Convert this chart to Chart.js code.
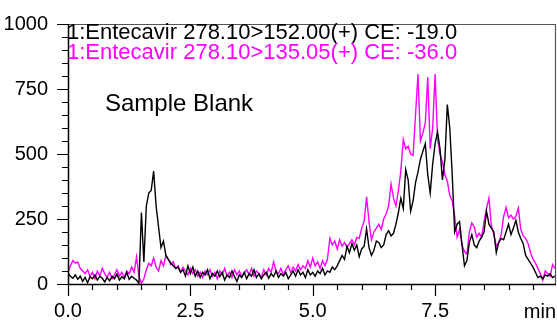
<!DOCTYPE html>
<html><head><meta charset="utf-8">
<script src="https://cdn.jsdelivr.net/npm/chart.js@4.4.1/dist/chart.umd.min.js"></script>
<style>html,body{margin:0;padding:0;background:#fff;}#wrap{width:557px;height:320px;}</style>
</head><body><div id="wrap"><canvas id="c" width="557" height="320"></canvas></div>
<script>
const times = [0.00,0.05,0.10,0.15,0.20,0.25,0.30,0.35,0.40,0.45,0.50,0.55,0.60,0.65,0.70,0.75,0.80,0.85,0.90,0.95,
1.00,1.05,1.10,1.15,1.20,1.25,1.30,1.35,1.40,1.45,1.50,1.55,1.60,1.65,1.70,1.75,1.80,1.85,1.90,1.95,
2.00,2.05,2.10,2.15,2.20,2.25,2.30,2.35,2.40,2.45,2.50,2.55,2.60,2.65,2.70,2.75,2.80,2.85,2.90,2.95,
3.00,3.05,3.10,3.15,3.20,3.25,3.30,3.35,3.40,3.45,3.50,3.55,3.60,3.65,3.70,3.75,3.80,3.85,3.90,3.95,
4.00,4.05,4.10,4.15,4.20,4.25,4.30,4.35,4.40,4.45,4.50,4.55,4.60,4.65,4.70,4.75,4.80,4.85,4.90,4.95,
5.00,5.05,5.10,5.15,5.20,5.25,5.30,5.35,5.40,5.45,5.50,5.55,5.60,5.65,5.70,5.75,5.80,5.85,5.90,5.95,
6.00,6.05,6.10,6.15,6.20,6.25,6.30,6.35,6.40,6.45,6.50,6.55,6.60,6.65,6.70,6.75,6.80,6.85,6.90,6.95,
7.00,7.05,7.10,7.15,7.20,7.25,7.30,7.35,7.40,7.45,7.50,7.55,7.60,7.65,7.70,7.75,7.80,7.85,7.90,7.95,
8.00,8.05,8.10,8.15,8.20,8.25,8.30,8.35,8.40,8.45,8.50,8.55,8.60,8.65,8.70,8.75,8.80,8.85,8.90,8.95,
9.00,9.05,9.10,9.15,9.20,9.25,9.30,9.35,9.40,9.45,9.50,9.55,9.60,9.65,9.70,9.75,9.80,9.85,9.90,9.95];

const black152 = [42,30,22,35,18,30,10,25,5,28,20,35,15,30,22,8,25,12,30,20,
38,15,28,20,45,18,30,22,15,2,275,85,300,350,360,434,300,220,140,165,
110,95,80,70,60,65,45,55,30,70,40,65,30,50,25,45,35,55,20,40,
30,50,28,45,15,35,25,50,30,10,35,25,45,20,40,30,55,25,40,20,
35,45,22,40,28,50,25,40,30,45,20,35,50,30,55,35,45,25,55,35,
45,30,50,40,60,35,50,45,65,55,70,90,110,95,145,120,155,130,150,105,
135,145,212,140,110,130,165,160,140,150,190,205,185,195,230,275,330,290,440,400,
280,320,390,430,480,510,540,420,350,460,540,585,520,400,480,690,600,420,200,230,
240,150,70,90,160,190,150,140,165,180,200,280,230,215,200,120,160,175,170,200,
230,190,215,245,200,175,155,110,95,80,65,45,25,30,20,35,30,40,25,30];

const magenta135 = [45,70,90,80,85,60,50,40,55,30,45,20,50,30,60,40,25,45,20,35,
55,30,45,25,50,40,65,45,104,30,2,20,55,80,70,100,65,50,90,70,
110,95,75,85,60,70,45,65,50,35,60,40,55,30,45,25,50,35,55,30,
45,20,50,35,60,30,45,25,55,35,50,30,40,55,35,60,30,50,40,25,
55,35,60,45,85,50,40,60,35,55,70,45,65,50,75,55,70,60,90,65,
100,70,85,60,90,70,95,175,150,165,135,170,145,160,140,155,170,150,180,175,
215,240,335,240,170,200,215,230,210,250,270,300,385,330,300,360,435,555,520,530,
500,495,650,808,550,580,620,795,520,600,808,560,500,470,420,395,340,320,260,180,
210,150,125,115,200,235,220,180,195,180,240,290,330,225,190,145,160,190,260,295,
255,265,250,260,292,210,185,175,155,120,95,80,60,40,15,50,40,30,75,60];

const yTickValues = [0,250,500,750,1000];
const xTickValues = [0.0,2.5,5.0,7.5];
const legendLines = ["1:Entecavir 278.10>152.00(+) CE: -19.0","1:Entecavir 278.10>135.05(+) CE: -36.0"];
const sampleLabel = "Sample Blank";
const xUnit = "min";

const FONT = "'Liberation Sans', Arial, sans-serif";

const decor = {
  id:'decor',
  afterDraw(chart){
    const ctx = chart.ctx, a = chart.chartArea, xs = chart.scales.x, ys = chart.scales.y;
    ctx.save();
    ctx.strokeStyle = '#555'; ctx.lineWidth = 1.2;
    ctx.beginPath();
    ctx.moveTo(a.left, a.top+0.5); ctx.lineTo(a.right-0.5, a.top+0.5); ctx.lineTo(a.right-0.5, a.bottom);
    ctx.stroke();
    ctx.strokeStyle = '#000'; ctx.lineWidth = 1.5;
    ctx.beginPath();
    ctx.moveTo(a.left+0.5, a.top); ctx.lineTo(a.left+0.5, a.bottom+0.5); ctx.lineTo(a.right, a.bottom+0.5);
    ctx.stroke();
    ctx.lineWidth = 1.2;
    ctx.beginPath();
    for (let v = 0; v <= 1000; v += 50) {
      const y = Math.round(ys.getPixelForValue(v)) + 0.5;
      const len = (v % 250 === 0) ? 11 : 6;
      ctx.moveTo(a.left - len, y); ctx.lineTo(a.left, y);
    }
    for (let v = 0; v <= 9.51; v += 0.5) {
      const x = Math.round(xs.getPixelForValue(v)) + 0.5;
      const len = (Math.abs(v/2.5 - Math.round(v/2.5)) < 1e-6) ? 12 : 6;
      ctx.moveTo(x, a.bottom); ctx.lineTo(x, a.bottom + len);
    }
    ctx.stroke();
    ctx.textBaseline = 'alphabetic'; ctx.textAlign = 'left';
    ctx.font = '22px ' + FONT;
    ctx.fillStyle = '#000'; ctx.fillText(legendLines[0], 67, 39);
    ctx.fillStyle = '#ff00ff'; ctx.fillText(legendLines[1], 67, 59);
    ctx.font = '24px ' + FONT;
    ctx.fillStyle = '#000'; ctx.fillText(sampleLabel, 105, 111);
    ctx.font = '20px ' + FONT; ctx.textAlign = 'right';
    ctx.fillText(xUnit, 556, 318);
    ctx.restore();
  }
};

new Chart(document.getElementById('c'), {
  type: 'line',
  data: {
    datasets: [
      { label: legendLines[0], data: times.map((t,i)=>({x:t, y:black152[i]})), borderColor:'#000', borderWidth:1.4, pointRadius:0, tension:0, fill:false },
      { label: legendLines[1], data: times.map((t,i)=>({x:t, y:magenta135[i]})), borderColor:'#ff00ff', borderWidth:1.4, pointRadius:0, tension:0, fill:false }
    ]
  },
  options: {
    responsive:false, animation:false, devicePixelRatio:1,
    layout:{ padding:{ top:21, right:1, left:0, bottom:0 } },
    plugins:{ legend:{display:false}, tooltip:{enabled:false} },
    scales:{
      x:{ type:'linear', min:0, max:9.97,
        grid:{display:false}, border:{display:false},
        afterFit(s){ s.height = 36; },
        afterBuildTicks(s){ s.ticks = xTickValues.map(v=>({value:v})); },
        ticks:{ padding:7, color:'#000', font:{family:FONT, size:20}, maxRotation:0, autoSkip:false,
          callback:(v)=>Number(v).toFixed(1) } },
      y:{ min:0, max:1000,
        grid:{display:false}, border:{display:false},
        afterFit(s){ s.width = 68; },
        afterBuildTicks(s){ s.ticks = yTickValues.map(v=>({value:v})); },
        ticks:{ padding:12, color:'#000', font:{family:FONT, size:20}, autoSkip:false,
          callback:(v)=>String(v) } }
    }
  },
  plugins:[decor]
});
</script></body></html>
